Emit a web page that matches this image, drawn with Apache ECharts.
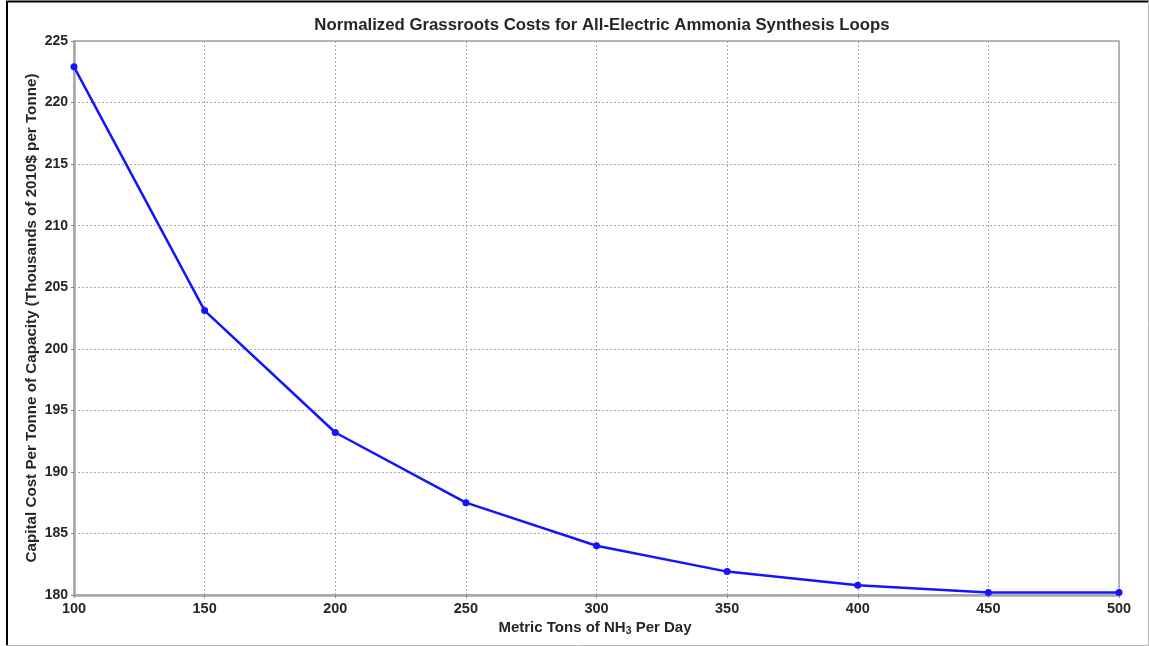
<!DOCTYPE html>
<html>
<head>
<meta charset="utf-8">
<style>
  html, body { margin: 0; padding: 0; background: #fff; }
  #chart { width: 1149px; height: 646px; }
</style>
<script src="https://cdn.jsdelivr.net/npm/echarts@6/dist/echarts.min.js"></script>
</head>
<body>
<div id="chart"></div>
<script>
// Plant capacity (metric tons NH3 per day) and normalized capital cost
const capacity = [100, 150, 200, 250, 300, 350, 400, 450, 500];
const costPerTonne = [222.9, 203.1, 193.2, 187.5, 184.0, 181.9, 180.8, 180.2, 180.2];

const titleText = 'Normalized Grassroots Costs for All-Electric Ammonia Synthesis Loops';
const yAxisName = 'Capital Cost Per Tonne of Capacity (Thousands of 2010$ per Tonne)';

const chart = echarts.init(document.getElementById('chart'), null, { renderer: 'canvas' });
const font = '"Liberation Sans", Arial, Helvetica, sans-serif';
const ink = '#262626';

chart.setOption({
  backgroundColor: '#fff',
  animation: false,
  title: {
    text: titleText,
    left: 597,
    textAlign: 'center',
    top: 12,
    textStyle: { fontFamily: font, fontSize: 16.8, fontWeight: 'bold', color: ink }
  },
  grid: {
    left: 74, right: 30, top: 41, bottom: 51,
    show: true, borderColor: '#a0a0a0', borderWidth: 1.5, backgroundColor: '#fff'
  },
  graphic: [
    // page frame
    { type: 'line', shape: { x1: 6.5, y1: 1.5, x2: 1149, y2: 1.5 }, style: { stroke: '#000', lineWidth: 2 }, silent: true },
    { type: 'line', shape: { x1: 7, y1: 1, x2: 7, y2: 646 }, style: { stroke: '#000', lineWidth: 2 }, silent: true },
    { type: 'line', shape: { x1: 1148.5, y1: 1, x2: 1148.5, y2: 646 }, style: { stroke: '#bbb', lineWidth: 1 }, silent: true },
    { type: 'line', shape: { x1: 6, y1: 645.5, x2: 1149, y2: 645.5 }, style: { stroke: '#bbb', lineWidth: 1 }, silent: true },
    // x-axis title with subscript
    {
      type: 'text',
      style: {
        text: '{n|Metric Tons of NH}{s|3}{n| Per Day}',
        x: 595, y: 619, textAlign: 'center',
        rich: {
          n: { fontFamily: font, fontSize: 15, fontWeight: 'bold', fill: ink },
          s: { fontFamily: font, fontSize: 10.5, fontWeight: 'bold', fill: ink, padding: [7, 0, 0, 0] }
        }
      }
    }
  ],
  xAxis: {
    type: 'value',
    min: 100, max: 500, interval: 50,
    axisLine: { show: true, lineStyle: { color: '#a8a8a8', width: 2.5 } },
    axisTick: { show: true, inside: false, length: 3, lineStyle: { color: '#888' } },
    axisLabel: { fontFamily: font, fontSize: 14.5, fontWeight: 'bold', color: ink, margin: 6 },
    splitLine: { show: true, lineStyle: { color: '#a8a8a8', type: [2, 2], width: 1 } }
  },
  yAxis: {
    type: 'value',
    min: 180, max: 225, interval: 5,
    name: yAxisName,
    nameLocation: 'middle',
    nameGap: 35,
    nameMoveOverlap: false,
    nameTextStyle: { fontFamily: font, fontSize: 15.2, fontWeight: 'bold', color: ink },
    axisLine: { show: true, lineStyle: { color: '#a8a8a8', width: 2.5 } },
    axisTick: { show: true, inside: false, length: 3, lineStyle: { color: '#888' } },
    axisLabel: { fontFamily: font, fontSize: 14, fontWeight: 'bold', color: ink, margin: 6 },
    splitLine: { show: true, lineStyle: { color: '#a8a8a8', type: [2, 2], width: 1 } }
  },
  series: [{
    type: 'line',
    data: capacity.map((c, i) => [c, costPerTonne[i]]),
    symbol: 'circle',
    symbolSize: 7,
    clip: false,
    lineStyle: { color: '#1414ff', width: 2.5 },
    itemStyle: { color: '#1414ff' }
  }]
});
</script>
</body>
</html>
